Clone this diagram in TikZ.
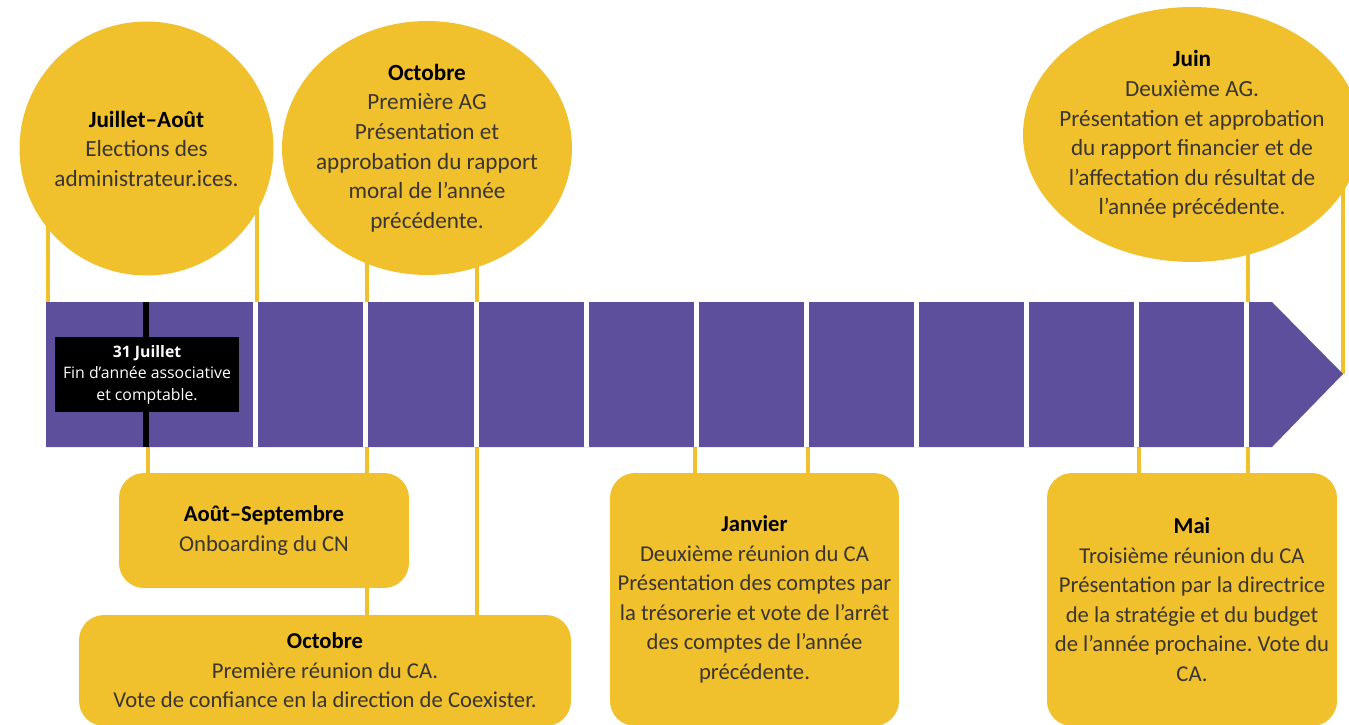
\documentclass[tikz,border=0pt]{standalone}
\usepackage{fontspec}
\setmainfont{Carlito}
\newfontfamily\tagfont{Open Sans}
\usetikzlibrary{shapes.geometric,backgrounds}
\frenchspacing

\definecolor{gold}{HTML}{F0C02D}
\definecolor{barviolet}{HTML}{5E4F9C}
\definecolor{ink}{HTML}{3A3530}

\tikzset{
  bubble/.style={ellipse,fill=gold,inner sep=0pt},
  bubbletext/.style={align=center,text=ink,font=\fontsize{13.2}{16.8}\selectfont},
  card/.style={rectangle,rounded corners=0.5cm,fill=gold,inner sep=0pt,align=center,text=ink,font=\fontsize{12.9}{16.8}\selectfont},
  tag/.style={rectangle,fill=black,inner sep=0pt,align=center,text=white,font=\tagfont\fontsize{9}{12.3}\selectfont},
  link/.style={gold,line width=2pt},
  gap/.style={white,line width=2.85pt},
}
\newcommand{\hd}[1]{{\bfseries\color{black}#1}}

\begin{document}
\begin{tikzpicture}[x=0.02cm,y=-0.02cm]
\useasboundingbox (0,0) rectangle (1349,724);

\fill[barviolet] (46,302) -- (1272,302) -- (1343,374) -- (1272,447) -- (46,447) -- cycle;

\draw[gap] (255.8,302) -- (255.8,447);
\draw[gap] (365.9,302) -- (365.9,447);
\draw[gap] (476.0,302) -- (476.0,447);
\draw[gap] (586.1,302) -- (586.1,447);
\draw[gap] (696.2,302) -- (696.2,447);
\draw[gap] (806.3,302) -- (806.3,447);
\draw[gap] (916.4,302) -- (916.4,447);
\draw[gap] (1026.5,302) -- (1026.5,447);
\draw[gap] (1136.6,302) -- (1136.6,447);
\draw[gap] (1246.7,302) -- (1246.7,447);

\draw[black,line width=3.4pt] (146,302) -- (146,447);
\node[tag,minimum width=3.68cm,minimum height=1.5cm] (fin) at (147,374.5) {\textbf{31 Juillet}\\Fin d’année associative\\et comptable.};

\coordinate (a1) at (48,302);
\coordinate (a2) at (257,302);
\coordinate (a3) at (367,302);
\coordinate (a4) at (477,302);
\coordinate (a5) at (1248,302);
\coordinate (tip) at (1343,374);

\coordinate (b1) at (148,447);
\coordinate (b2) at (367,447);
\coordinate (b3) at (477,447);
\coordinate (b4) at (695,447);
\coordinate (b5) at (808,447);
\coordinate (b6) at (1139,447);
\coordinate (b7) at (1248,447);


\node[bubble,minimum width=5.08cm,minimum height=5.08cm] (juillet) at (146.5,148.5) {};
\node[bubbletext] (juillettxt) at (juillet) {\hd{Juillet–Août}\\Elections des\\administrateur.ices.};

\node[bubble,minimum width=5.8cm,minimum height=5.08cm] (octag) at (427,148) {};
\node[bubbletext] (octagtxt) at (octag) {\hd{Octobre}\\Première AG\\Présentation et\\approbation du rapport\\moral de l’année\\précédente.};

\node[bubble,minimum width=6.76cm,minimum height=5.1cm] (juin) at (1192,134.5) {};
\node[bubbletext] (juintxt) at (juin) {\hd{Juin}\\Deuxième AG.\\Présentation et approbation\\du rapport financier et de\\l’affectation du résultat de\\l’année précédente.};


\node[card,minimum width=5.8cm,minimum height=2.3cm] (sept) at (264,530.5) {\hd{Août–Septembre}\\Onboarding du CN};
\node[card,minimum width=9.84cm,minimum height=2.22cm] (octca) at (325,670.5) {\hd{Octobre}\\Première réunion du CA.\\Vote de confiance en la direction de Coexister.};
\node[card,minimum width=5.78cm,minimum height=5.06cm] (janv) at (754.5,599.5) {\hd{Janvier}\\Deuxième réunion du CA\\Présentation des comptes par\\la trésorerie et vote de l’arrêt\\des comptes de l’année\\précédente.};
\node[card,minimum width=5.8cm,minimum height=5.06cm] (mai) at (1192,599.5) {\hd{Mai}\\Troisième réunion du CA\\Présentation par la directrice\\de la stratégie et du budget\\de l’année prochaine. Vote du\\CA.};


\begin{scope}[on background layer]
\draw[link] (juillet.center -| a1) -- (a1);
\draw[link] (juillet.center -| a2) -- (a2);
\draw[link] (octag.center -| a3) -- (a3);
\draw[link] (octag.center -| a4) -- (a4);
\draw[link] (juin.center -| a5) -- (a5);
\draw[link] (juin.center -| tip) -- (tip);

\draw[link] (b1) -- (b1 |- sept.north);
\draw[link] (b2) -- (b2 |- sept.north);
\draw[link] (b2 |- sept.south) -- (b2 |- octca.north);
\draw[link] (b3) -- (b3 |- octca.north);
\draw[link] (b4) -- (b4 |- janv.north);
\draw[link] (b5) -- (b5 |- janv.north);
\draw[link] (b6) -- (b6 |- mai.north);
\draw[link] (b7) -- (b7 |- mai.north);
\end{scope}

\end{tikzpicture}
\end{document}
